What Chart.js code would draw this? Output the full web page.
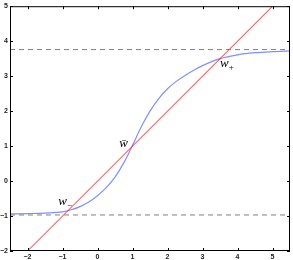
<!DOCTYPE html>
<html>
<head>
<meta charset="utf-8">
<script src="https://cdn.jsdelivr.net/npm/chart.js@4.4.0/dist/chart.umd.min.js"></script>
<style>
  html,body{margin:0;padding:0;background:#fff;}
  #wrap{width:293px;height:260px;position:relative;}
</style>
</head>
<body>
<div id="wrap"><canvas id="c"></canvas></div>
<script>
// values
const curveX=[-2.5,-2.0,-1.5,-1.0,-0.75,-0.5,-0.25,0.0,0.25,0.5,0.75,1.0,1.25,1.5,1.75,2.0,2.25,2.5,2.75,3.0,3.5,4.0,4.5,5.0,5.5];
const curveY=[-0.94,-0.93,-0.915,-0.88,-0.82,-0.73,-0.60,-0.42,-0.19,0.11,0.52,1.02,1.55,2.0,2.36,2.64,2.85,3.02,3.17,3.30,3.50,3.61,3.67,3.70,3.72];
const lineX=[-2,5];
const lineY=[-2,5];
const dashX=[-2.5,5.5];
const upperLevel=3.76;
const lowerLevel=-0.97;
const xTicks=[-2,-1,0,1,2,3,4,5];
const yTicks=[-2,-1,0,1,2,3,4,5];
const labels=[
  {base:'w',sub:'\u2212',x:-1.12,y:-0.69},
  {base:'w\u0304',sub:'',x:0.62,y:0.97},
  {base:'w',sub:'+',x:3.5,y:3.26},
];

const pts=(xs,ys)=>xs.map((x,i)=>({x,y:ys[i]}));
const fmt=v=>String(v).replace('-','\u2212');

const frame={
  id:'frame',
  afterDraw(chart){
    const {ctx,chartArea:a,scales:{x,y}}=chart;
    ctx.save();
    ctx.strokeStyle='#000';ctx.lineWidth=1;
    ctx.strokeRect(a.left+0.5,a.top+0.5,a.right-a.left-1,a.bottom-a.top-1);
    ctx.beginPath();
    xTicks.forEach(v=>{
      const p=Math.round(x.getPixelForValue(v))+0.5;
      ctx.moveTo(p,a.bottom);ctx.lineTo(p,a.bottom-3);
      ctx.moveTo(p,a.top);ctx.lineTo(p,a.top+3);
    });
    yTicks.forEach(v=>{
      const p=Math.round(y.getPixelForValue(v))+0.5;
      ctx.moveTo(a.left,p);ctx.lineTo(a.left+3,p);
      ctx.moveTo(a.right,p);ctx.lineTo(a.right-3,p);
    });
    ctx.stroke();
    // point labels
    ctx.fillStyle='#000';
    labels.forEach(l=>{
      const px=x.getPixelForValue(l.x),py=y.getPixelForValue(l.y);
      ctx.font='italic 13px "Liberation Serif", "DejaVu Serif", serif';
      ctx.textAlign='left';ctx.textBaseline='alphabetic';
      ctx.fillText(l.base,px,py);
      const w=ctx.measureText('w').width;
      if(l.sub){
        ctx.font='9px "Liberation Serif", "DejaVu Serif", serif';
        ctx.fillText(l.sub,px+w,py+3);
      }
    });
    ctx.restore();
  }
};

const tickFont={family:'"Liberation Sans", Arial, sans-serif',size:7,weight:'bold'};

new Chart(document.getElementById('c'),{
  type:'scatter',
  data:{datasets:[
    {data:pts(dashX,[upperLevel,upperLevel]),showLine:true,borderColor:'#808080',borderWidth:1,borderDash:[5,4],pointRadius:0},
    {data:pts(dashX,[lowerLevel,lowerLevel]),showLine:true,borderColor:'#808080',borderWidth:1,borderDash:[5,4],pointRadius:0},
    {data:pts(lineX,lineY),showLine:true,borderColor:'#ff2020',borderWidth:1,pointRadius:0},
    {data:pts(curveX,curveY),showLine:true,borderColor:'#8090ff',borderWidth:1.2,pointRadius:0,cubicInterpolationMode:'monotone'},
  ]},
  options:{
    responsive:true,maintainAspectRatio:false,animation:false,
    layout:{padding:{top:6,right:3,left:0,bottom:0}},
    plugins:{legend:{display:false},tooltip:{enabled:false}},
    scales:{
      x:{type:'linear',min:-2.5,max:5.5,
        afterBuildTicks:s=>{s.ticks=xTicks.map(v=>({value:v}));},
        afterFit:s=>{s.height=9;},
        grid:{display:false,drawTicks:false},border:{display:false},
        ticks:{padding:2,color:'#222',font:tickFont,callback:fmt,maxRotation:0,autoSkip:false}},
      y:{type:'linear',min:-2,max:5,
        afterBuildTicks:s=>{s.ticks=yTicks.map(v=>({value:v}));},
        afterFit:s=>{s.width=10;},
        grid:{display:false,drawTicks:false},border:{display:false},
        ticks:{padding:2,color:'#222',font:tickFont,callback:fmt,autoSkip:false}},
    }
  },
  plugins:[frame]
});
</script>
</body>
</html>
